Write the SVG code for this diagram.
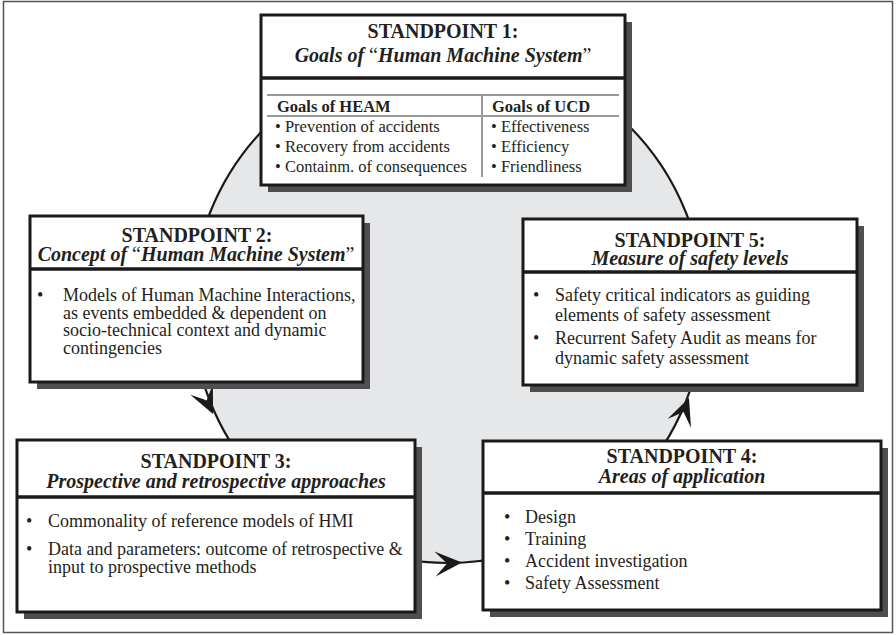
<svg xmlns="http://www.w3.org/2000/svg" width="896" height="635" viewBox="0 0 896 635">
  <style>
    text { font-family: "Liberation Serif", "Times New Roman", serif; fill: #231f20; }
    .title { font-size: 20px; font-weight: bold; text-anchor: middle; }
    .sub { font-size: 20px; font-weight: bold; font-style: italic; text-anchor: middle; }
    .q { font-style: normal; font-weight: normal; }
    .item { font-size: 18px; }
    .tbl { font-size: 16.5px; }
    .tblh { font-size: 16.5px; font-weight: bold; }
    .shadow { fill: #4f4f51; }
    .box { fill: #ffffff; stroke: #1a1a1a; stroke-width: 3; }
    .rule { stroke: #1a1a1a; stroke-width: 3.5; }
    .grid { stroke: #9a9a9a; stroke-width: 2; fill: none; }
    .head { fill: #1a1a1a; }
  </style>
  <defs>
    <!-- barbed arrowhead, tip at origin pointing along +x -->
    <path id="barb" d="M0,0 L-27,-12.5 Q-19,-4 -15,0 Q-19,4 -27,12.5 Z"/>
  </defs>

  <!-- outer frame -->
  <rect x="3.5" y="1.5" width="889" height="631" fill="#ffffff" stroke="#555555" stroke-width="1.5"/>

  <!-- cycle linking the standpoints -->
  <g id="connectors">
    <circle cx="448" cy="307" r="256" fill="#e6e7e9" stroke="#1a1a1a" stroke-width="2.2"/>
    <use href="#barb" class="head" transform="translate(213,414) rotate(65)"/>
    <use href="#barb" class="head" transform="translate(462,562.6) rotate(-3)"/>
    <use href="#barb" class="head" transform="translate(689,398) rotate(-69)"/>
  </g>

  <!-- Standpoint 1 -->
  <g id="sp1">
    <rect class="shadow" x="268" y="22" width="364" height="170"/>
    <rect class="box" x="261" y="15" width="364" height="170"/>
    <text class="title" x="443" y="38">STANDPOINT 1:</text>
    <text class="sub" x="443" y="62">Goals of <tspan class="q">“</tspan>Human Machine System<tspan class="q">”</tspan></text>
    <line class="rule" x1="261" y1="78" x2="625" y2="78"/>
    <line class="grid" x1="267" y1="95" x2="619" y2="95"/>
    <line class="grid" x1="267" y1="116" x2="619" y2="116"/>
    <line class="grid" x1="482" y1="95" x2="482" y2="177"/>
    <text class="tblh" x="277" y="112">Goals of HEAM</text>
    <text class="tblh" x="492" y="112">Goals of UCD</text>
    <text class="tbl" x="275" y="132">• Prevention of accidents</text>
    <text class="tbl" x="275" y="152">• Recovery from accidents</text>
    <text class="tbl" x="275" y="172">• Containm. of consequences</text>
    <text class="tbl" x="491" y="132">•  Effectiveness</text>
    <text class="tbl" x="491" y="152">•  Efficiency</text>
    <text class="tbl" x="491" y="172">•  Friendliness</text>
  </g>

  <!-- Standpoint 2 -->
  <g id="sp2">
    <rect class="shadow" x="37" y="223" width="333" height="166"/>
    <rect class="box" x="30" y="216" width="333" height="166"/>
    <text class="title" x="197" y="242">STANDPOINT 2:</text>
    <text class="sub" x="196" y="261">Concept of <tspan class="q">“</tspan>Human Machine System<tspan class="q">”</tspan></text>
    <line class="rule" x1="30" y1="269" x2="363" y2="269"/>
    <text class="item" x="37" y="301">•</text>
    <text class="item" x="63" y="301">Models of Human Machine Interactions,</text>
    <text class="item" x="63" y="318.5">as events embedded &amp; dependent on</text>
    <text class="item" x="63" y="336">socio-technical context and dynamic</text>
    <text class="item" x="63" y="353.5">contingencies</text>
  </g>

  <!-- Standpoint 3 -->
  <g id="sp3">
    <rect class="shadow" x="24" y="447" width="398" height="172"/>
    <rect class="box" x="17" y="440" width="398" height="172"/>
    <text class="title" x="216" y="468">STANDPOINT 3:</text>
    <text class="sub" x="216" y="488">Prospective and retrospective approaches</text>
    <line class="rule" x1="17" y1="497" x2="415" y2="497"/>
    <text class="item" x="26" y="527">•</text>
    <text class="item" x="48" y="527">Commonality of reference models of HMI</text>
    <text class="item" x="26" y="555">•</text>
    <text class="item" x="48" y="555">Data and parameters: outcome of retrospective &amp;</text>
    <text class="item" x="48" y="573">input to prospective methods</text>
  </g>

  <!-- Standpoint 4 -->
  <g id="sp4">
    <rect class="shadow" x="490" y="448" width="398" height="169"/>
    <rect class="box" x="483" y="441" width="398" height="169"/>
    <text class="title" x="682" y="463">STANDPOINT 4:</text>
    <text class="sub" x="682" y="483">Areas of application</text>
    <line class="rule" x1="483" y1="493" x2="881" y2="493"/>
    <text class="item" x="504" y="523">•</text>
    <text class="item" x="525" y="523">Design</text>
    <text class="item" x="504" y="545">•</text>
    <text class="item" x="525" y="545">Training</text>
    <text class="item" x="504" y="567">•</text>
    <text class="item" x="525" y="567">Accident investigation</text>
    <text class="item" x="504" y="589">•</text>
    <text class="item" x="525" y="589">Safety Assessment</text>
  </g>

  <!-- Standpoint 5 -->
  <g id="sp5">
    <rect class="shadow" x="530" y="226" width="334" height="166"/>
    <rect class="box" x="523" y="219" width="334" height="166"/>
    <text class="title" x="690" y="247">STANDPOINT 5:</text>
    <text class="sub" x="690" y="265">Measure of safety levels</text>
    <line class="rule" x1="523" y1="272" x2="857" y2="272"/>
    <text class="item" x="533" y="301">•</text>
    <text class="item" x="555" y="301">Safety critical indicators as guiding</text>
    <text class="item" x="555" y="320.5">elements of safety assessment</text>
    <text class="item" x="533" y="344">•</text>
    <text class="item" x="555" y="344">Recurrent Safety Audit as means for</text>
    <text class="item" x="555" y="363.5">dynamic safety assessment</text>
  </g>
</svg>
